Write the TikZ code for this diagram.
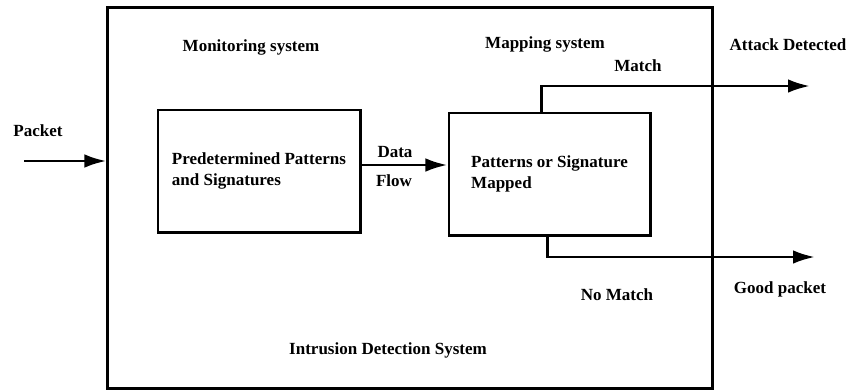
\documentclass[tikz,border=0pt]{standalone}
\usepackage{fontspec}
\setmainfont{Liberation Serif}
\usetikzlibrary{arrows.meta,calc}

\begin{document}
\begin{tikzpicture}[x=0.025cm, y=-0.025cm,
    every node/.style={font=\bfseries\fontsize{12.1}{15.5}\selectfont, inner sep=1pt},
    unitbox/.style={draw, line width=2.1pt, align=left, inner sep=0pt},
    flow/.style={line width=2.1pt, -{Latex[length=5.5mm,width=3.4mm]}}]
  \useasboundingbox (0,0) rectangle (853,390);
  % outer system box and the two units
  \node[unitbox, minimum width=15.1cm, minimum height=9.5cm] (ids) at (410,198) {};
  \node[unitbox, minimum width=5.05cm, minimum height=3.05cm] (mon) at (259,171)
    {Predetermined Patterns\\and Signatures};
  \node[unitbox, minimum width=5.025cm, minimum height=3.05cm] (map) at (549.5,174)
    {Patterns or Signature\\Mapped};
  % labels
  \node (lmon) at (251,47) {Monitoring system};
  \node (lmap) at (545,44) {Mapping system};
  \node (lids) at (388,350) {Intrusion Detection System};
  \node (lpkt) at (38,131) {Packet};
  \node (ldata) at (395,152) {Data};
  \node (lflow) at (394,181) {Flow};
  \node (lmatch) at (638,66) {Match};
  \node (lnomatch) at (617,295) {No Match};
  \node (lattack) at (788,45) {Attack Detected};
  \node (lgood) at (780,289) {Good packet};
  % connectors
  \coordinate (pin) at (24,161);
  \coordinate (attack) at (810,86);
  \coordinate (good) at (815,257);
  \draw[flow] (pin) -- (pin -| ids.west);
  \draw[flow] ([yshift=0.15cm]mon.east) -- ([yshift=0.15cm]mon.east -| map.west);
  \draw[flow] ([xshift=-0.19cm]map.north) |- (attack);
  \draw[flow] ([xshift=-0.04cm]map.south) |- (good);
\end{tikzpicture}
\end{document}
